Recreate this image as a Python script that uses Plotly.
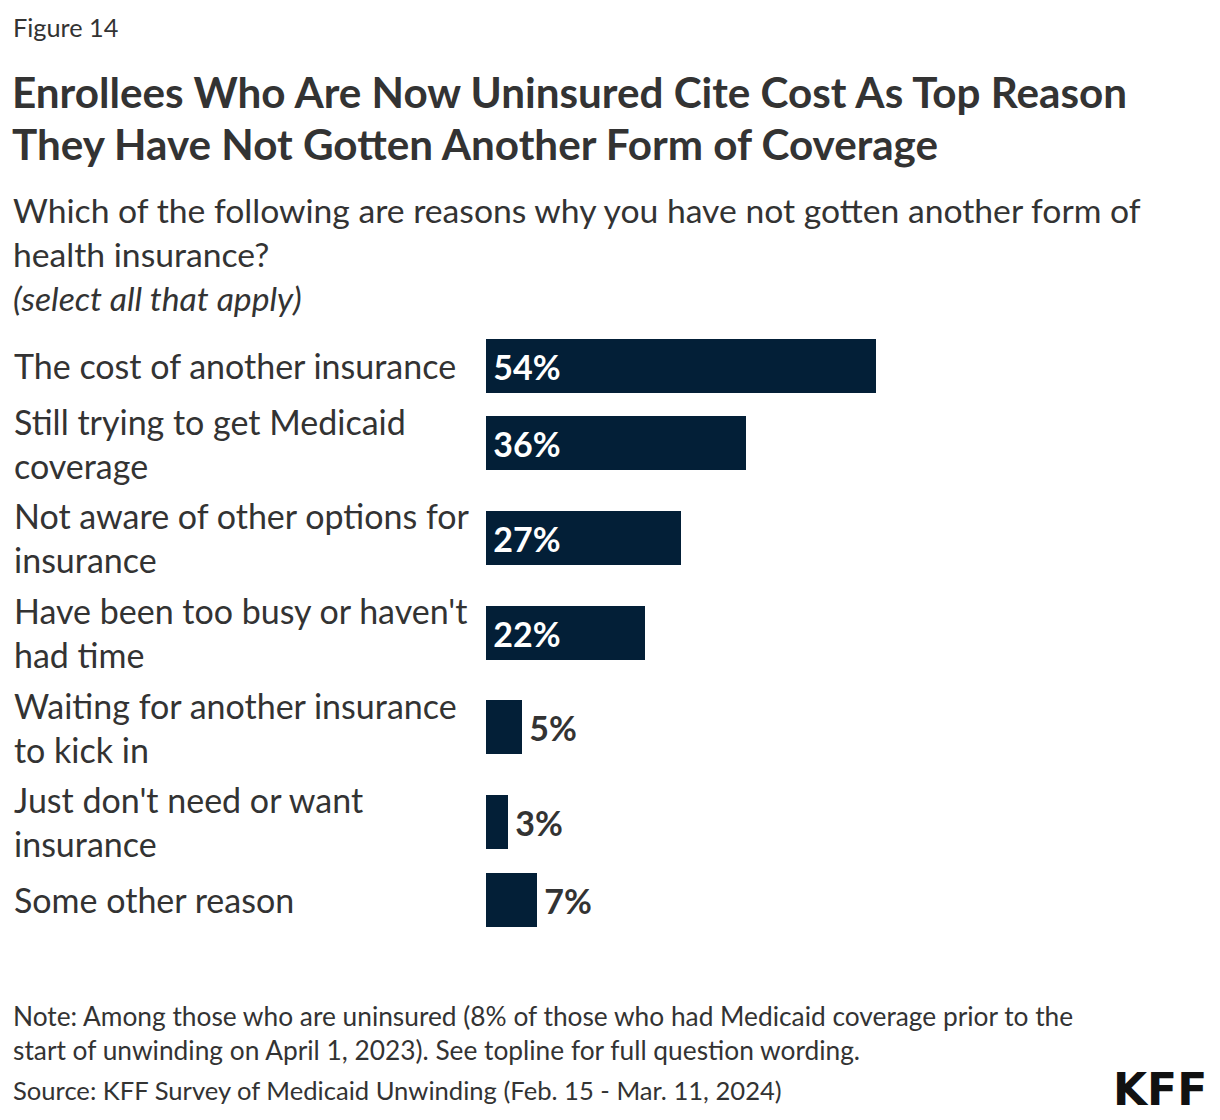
import plotly.graph_objects as go

# ---------------- data ----------------
categories = [
    "The cost of another insurance",
    "Still trying to get Medicaid<br>coverage",
    "Not aware of other options for<br>insurance",
    "Have been too busy or haven't<br>had time",
    "Waiting for another insurance<br>to kick in",
    "Just don't need or want<br>insurance",
    "Some other reason",
]
values = [54, 36, 27, 22, 5, 3, 7]

fig_label = "Figure 14"
title_lines = [
    "Enrollees Who Are Now Uninsured Cite Cost As Top Reason",
    "They Have Not Gotten Another Form of Coverage",
]
subtitle = ("Which of the following are reasons why you have not gotten another form of<br>"
            "health insurance?<br><i>(select all that apply)</i>")
note = ("Note: Among those who are uninsured (8% of those who had Medicaid coverage prior to the<br>"
        "start of unwinding on April 1, 2023). See topline for full question wording.")
source = "Source: KFF Survey of Medicaid Unwinding (Feb. 15 - Mar. 11, 2024)"

# ---------------- style ----------------
FONT = "Lato"
TXT = "#333333"
NAVY = "#031f37"
W, H = 1220, 1120
L, R, T, B = 486, 1208, 300, 960  # plot area in pixels

# row heights depend on number of label lines
def row_h(label):
    n = label.count("<br>") + 1
    return 60.5 if n == 1 else 94.7

centers = [0.0]
for i in range(1, len(categories)):
    centers.append(centers[-1] + (row_h(categories[i - 1]) + row_h(categories[i])) / 2)

first_center_px = 365.5
ytop = T - first_center_px
ybot = ytop + (B - T)

def px_x(p):
    return (p - L) / (R - L)

def px_y(p):
    return (B - p) / (B - T)

fig = go.Figure()
fig.add_trace(go.Bar(
    x=values,
    y=centers,
    orientation="h",
    width=54,
    marker=dict(color=NAVY, line=dict(width=0)),
    text=["\u2009" + f"{v}%" for v in values],
    textposition=["inside" if v >= 10 else "outside" for v in values],
    insidetextanchor="start",
    insidetextfont=dict(family=FONT, size=34, color="white", weight="bold"),
    outsidetextfont=dict(family=FONT, size=34, color=TXT, weight="bold"),
    cliponaxis=False,
    hoverinfo="skip",
))

annotations = []
for lab, c in zip(categories, centers):
    annotations.append(dict(
        text=lab, x=px_x(12), xref="paper", y=c, yref="y",
        xanchor="left", yanchor="middle", align="left", showarrow=False,
        font=dict(family=FONT, size=34, color=TXT),
    ))

annotations.append(dict(text=fig_label, x=px_x(11), y=px_y(27), xref="paper", yref="paper",
                        xanchor="left", yanchor="middle", showarrow=False,
                        font=dict(family=FONT, size=25.3, color=TXT)))
for i, line in enumerate(title_lines):
    annotations.append(dict(text="<b>" + line + "</b>", x=px_x(10), y=px_y(91 + 52 * i),
                            xref="paper", yref="paper", xanchor="left", yanchor="middle",
                            showarrow=False, font=dict(family=FONT, size=42.2, color=TXT)))
annotations.append(dict(text=subtitle, x=px_x(11), y=px_y(254), xref="paper", yref="paper",
                        xanchor="left", yanchor="middle", align="left", showarrow=False,
                        font=dict(family=FONT, size=33.7, color=TXT)))
annotations.append(dict(text=note, x=px_x(11), y=px_y(1033), xref="paper", yref="paper",
                        xanchor="left", yanchor="middle", align="left", showarrow=False,
                        font=dict(family=FONT, size=26.3, color=TXT)))
annotations.append(dict(text=source, x=px_x(11), y=px_y(1090), xref="paper", yref="paper",
                        xanchor="left", yanchor="middle", align="left", showarrow=False,
                        font=dict(family=FONT, size=25.6, color=TXT)))
annotations.append(dict(text="<b>KFF</b>", x=px_x(1209), y=px_y(1089), xref="paper", yref="paper",
                        xanchor="right", yanchor="middle", showarrow=False,
                        font=dict(family="DejaVu Sans", size=44, color="#111111")))

fig.update_layout(
    width=W, height=H,
    margin=dict(l=L, r=W - R, t=T, b=H - B, pad=0),
    paper_bgcolor="white", plot_bgcolor="white",
    showlegend=False,
    bargap=0,
    xaxis=dict(range=[0, 100], visible=False, fixedrange=True),
    yaxis=dict(range=[ybot, ytop], visible=False, fixedrange=True),
    annotations=annotations,
    font=dict(family=FONT, color=TXT),
)

fig.write_html("out.html", config={"displayModeBar": False},
               post_script="document.body.style.margin='0';document.body.style.overflow='hidden';")
